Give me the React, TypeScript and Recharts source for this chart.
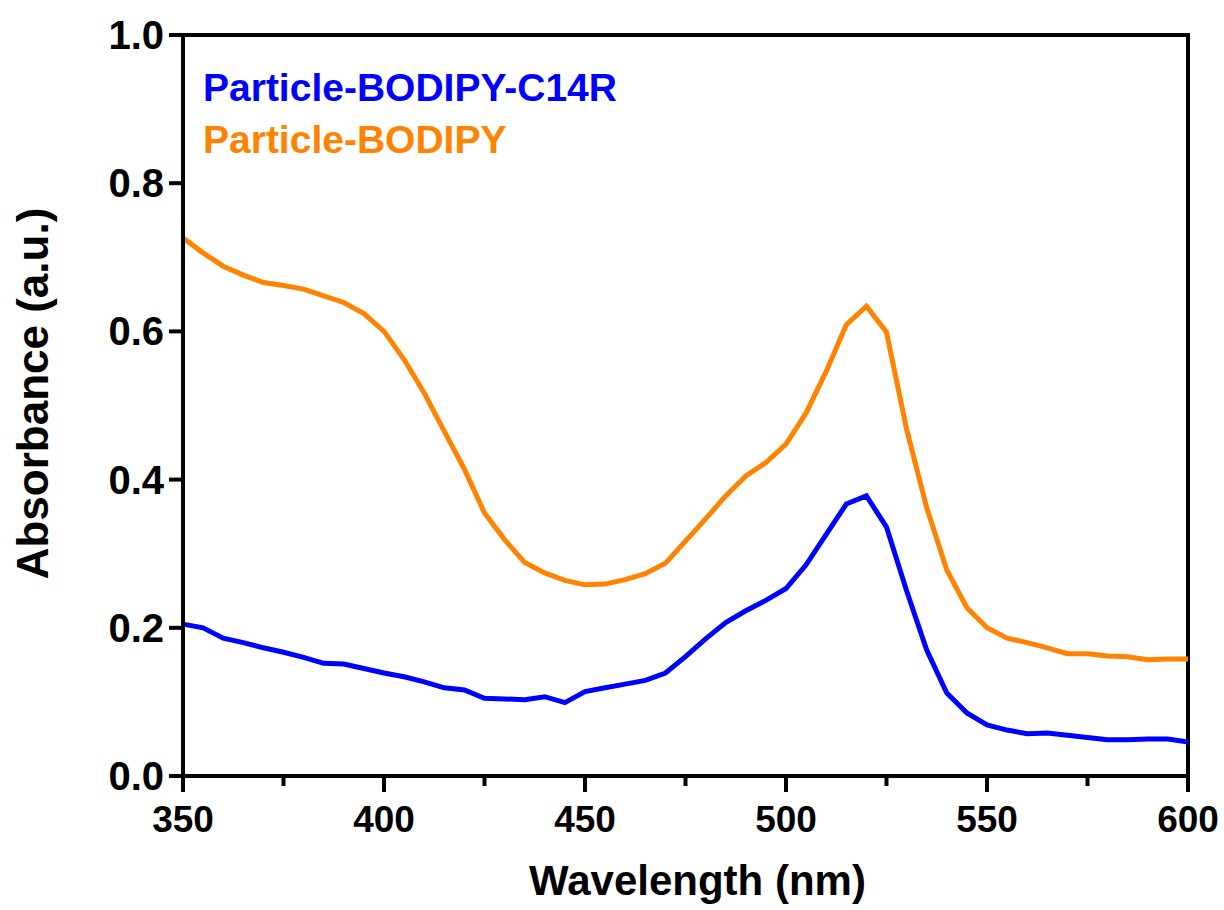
import React from "react";
import { LineChart, Line, XAxis, YAxis, ReferenceLine, Label } from "recharts";

const wavelengths = [
  350, 355, 360, 365, 370, 375, 380, 385, 390, 395, 400, 405, 410, 415, 420, 425, 430,
  435, 440, 445, 450, 455, 460, 465, 470, 475, 480, 485, 490, 495, 500, 505, 510, 515,
  520, 525, 530, 535, 540, 545, 550, 555, 560, 565, 570, 575, 580, 585, 590, 595, 600,
];

// Particle-BODIPY-C14R
const c14r = [
  0.205, 0.2, 0.186, 0.18, 0.173, 0.167, 0.16, 0.152, 0.151, 0.145, 0.139, 0.134, 0.127,
  0.119, 0.116, 0.105, 0.104, 0.103, 0.107, 0.099, 0.114, 0.119, 0.124, 0.129, 0.139,
  0.161, 0.185, 0.207, 0.223, 0.237, 0.253, 0.285, 0.326, 0.367, 0.378, 0.336, 0.25,
  0.17, 0.112, 0.085, 0.069, 0.062, 0.057, 0.058, 0.055, 0.052, 0.049, 0.049, 0.05,
  0.05, 0.046,
];

// Particle-BODIPY
const bodipy = [
  0.726, 0.706, 0.688, 0.676, 0.666, 0.662, 0.657, 0.648, 0.639, 0.624, 0.6, 0.562, 0.517,
  0.465, 0.414, 0.355, 0.319, 0.288, 0.274, 0.264, 0.258, 0.259, 0.265, 0.273, 0.287,
  0.317, 0.347, 0.378, 0.405, 0.423, 0.448, 0.49, 0.546, 0.609, 0.634, 0.599, 0.468,
  0.362, 0.278, 0.227, 0.2, 0.186, 0.18, 0.173, 0.165, 0.165, 0.162, 0.161, 0.157,
  0.158, 0.158,
];

const xTicks = [350, 375, 400, 425, 450, 475, 500, 525, 550, 575, 600];
const yTicks = [0, 0.2, 0.4, 0.6, 0.8, 1.0];

const data = wavelengths.map((wl, i) => ({ wl, c14r: c14r[i], bodipy: bodipy[i] }));

const FONT = '"Liberation Sans", Arial, sans-serif';
const BLUE = "#0000FF";
const ORANGE = "#FF8300";

const XTick = ({ x, y, payload }: any) => {
  const major = payload.value % 50 === 0;
  return (
    <g>
      <line x1={x} y1={y} x2={x} y2={y + (major ? 16 : 10)} stroke="#000" strokeWidth={4} />
      {major && (
        <text x={x} y={y + 56} textAnchor="middle" fontFamily={FONT} fontWeight="bold" fontSize={37} fill="#000">
          {payload.value}
        </text>
      )}
    </g>
  );
};

const YTick = ({ x, y, payload }: any) => (
  <g>
    <line x1={x - 14} y1={y} x2={x} y2={y} stroke="#000" strokeWidth={4} />
    <text x={x - 19} y={y + 14} textAnchor="end" fontFamily={FONT} fontWeight="bold" fontSize={40} fill="#000">
      {payload.value.toFixed(1)}
    </text>
  </g>
);

export default function App() {
  return (
    <div style={{ position: "fixed", left: 0, top: 0, width: 1224, height: 910, background: "#fff" }}>
      <LineChart width={1224} height={910} data={data} margin={{ top: 35, right: 36, left: 83, bottom: 74 }}>
        <XAxis
          dataKey="wl"
          type="number"
          domain={[350, 600]}
          ticks={xTicks}
          interval={0}
          height={60}
          tickSize={0}
          tickMargin={0}
          tick={<XTick />}
          axisLine={{ stroke: "#000", strokeWidth: 4, strokeLinecap: "square" }}
        >
          <Label
            content={({ viewBox }: any) => (
              <text
                x={viewBox.x + viewBox.width / 2 + 12}
                y={895}
                textAnchor="middle"
                fontFamily={FONT}
                fontWeight="bold"
                fontSize={42}
                fill="#000"
              >
                Wavelength (nm)
              </text>
            )}
          />
        </XAxis>
        <YAxis
          type="number"
          domain={[0, 1]}
          ticks={yTicks}
          interval={0}
          width={100}
          tickSize={0}
          tickMargin={0}
          tick={<YTick />}
          axisLine={{ stroke: "#000", strokeWidth: 4, strokeLinecap: "square" }}
        >
          <Label
            content={({ viewBox }: any) => {
              const cy = viewBox.y + viewBox.height / 2 - 12;
              return (
                <text
                  x={48}
                  y={cy}
                  transform={`rotate(-90, 48, ${cy})`}
                  textAnchor="middle"
                  fontFamily={FONT}
                  fontWeight="bold"
                  fontSize={44}
                  fill="#000"
                >
                  Absorbance (a.u.)
                </text>
              );
            }}
          />
        </YAxis>
        <ReferenceLine y={1} stroke="#000" strokeWidth={4} strokeLinecap="square" />
        <ReferenceLine x={600} stroke="#000" strokeWidth={4} strokeLinecap="square" />
        <Line type="linear" dataKey="bodipy" stroke={ORANGE} strokeWidth={5} dot={false} isAnimationActive={false} />
        <Line type="linear" dataKey="c14r" stroke={BLUE} strokeWidth={5} dot={false} isAnimationActive={false} />
      </LineChart>
      <div
        style={{
          position: "absolute",
          left: 203,
          top: 62,
          fontFamily: FONT,
          fontWeight: "bold",
          fontSize: 39,
          lineHeight: "52px",
          whiteSpace: "nowrap",
        }}
      >
        <div style={{ color: BLUE }}>Particle-BODIPY-C14R</div>
        <div style={{ color: ORANGE }}>Particle-BODIPY</div>
      </div>
    </div>
  );
}
